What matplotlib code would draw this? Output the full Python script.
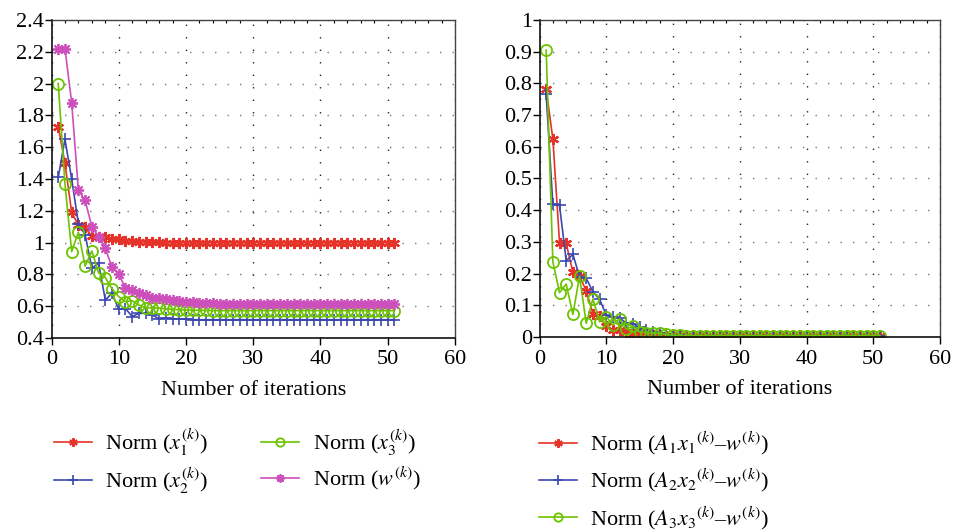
import matplotlib
matplotlib.use("Agg")
import matplotlib.pyplot as plt
import numpy as np
from matplotlib.ticker import MultipleLocator, FuncFormatter

plt.rcParams['font.family'] = ['Liberation Serif', 'DejaVu Serif']
plt.rcParams['mathtext.fontset'] = 'stix'

iterations = list(range(1, 52))

norm_x1 = [1.73, 1.50, 1.19, 1.11, 1.095, 1.04, 1.035, 1.035, 1.02, 1.02,
           1.01, 1.01, 1.005, 1.005, 1.003, 1.002] + [1.00] * 35
norm_x2 = [1.41, 1.65, 1.40, 1.12, 1.05, 0.84, 0.87, 0.64, 0.68, 0.58,
           0.585, 0.535, 0.555, 0.555, 0.545, 0.52, 0.525, 0.52, 0.52, 0.52] + [0.515] * 31
norm_x3 = [2.00, 1.37, 0.943, 1.065, 0.853, 0.947, 0.81, 0.78, 0.71, 0.66,
           0.628, 0.635, 0.607, 0.59, 0.59, 0.588, 0.583, 0.58, 0.578, 0.576,
           0.575, 0.574, 0.573] + [0.572] * 28
norm_w = [2.22, 2.22, 1.88, 1.33, 1.265, 1.10, 1.037, 0.964, 0.845, 0.80,
          0.716, 0.70, 0.68, 0.67, 0.653, 0.65, 0.643, 0.638, 0.632, 0.628,
          0.625, 0.622, 0.62, 0.618, 0.616, 0.615] + [0.613] * 25

res_1 = [0.782, 0.625, 0.298, 0.295, 0.205, 0.192, 0.146, 0.074, 0.066, 0.035,
         0.022, 0.021, 0.015, 0.010, 0.012, 0.009, 0.007, 0.005, 0.004, 0.003] + [0.002] * 31
res_2 = [0.766, 0.418, 0.415, 0.24, 0.261, 0.19, 0.185, 0.143, 0.119, 0.069,
         0.064, 0.06, 0.044, 0.042, 0.03, 0.022, 0.017, 0.012, 0.008, 0.006,
         0.005, 0.004] + [0.003] * 29
res_3 = [0.905, 0.237, 0.14, 0.167, 0.071, 0.192, 0.043, 0.12, 0.048, 0.064,
         0.038, 0.058, 0.025, 0.034, 0.016, 0.014, 0.012, 0.012, 0.008, 0.006,
         0.005] + [0.004] * 30

left_labels = [r"Norm ($x_1^{(k)}$)", r"Norm ($x_2^{(k)}$)",
               r"Norm ($x_3^{(k)}$)", r"Norm ($w^{(k)}$)"]
right_labels = [r"Norm ($A_1x_1{}^{(k)}$–$w^{(k)}$)",
                r"Norm ($A_2x_2{}^{(k)}$–$w^{(k)}$)",
                r"Norm ($A_3x_3{}^{(k)}$–$w^{(k)}$)"]
xlabel = "Number of iterations"

RED = "#e5332a"
BLUE = "#3c48b0"
GREEN = "#6cc300"
MAGENTA = "#cc4fbc"

ast6 = (6, 2, 0)
ast8 = (8, 2, 0)

W, H = 957, 531
fig = plt.figure(figsize=(W / 100, H / 100), dpi=100)

def px_axes(l, r, t, b):
    return fig.add_axes([l / W, 1 - b / H, (r - l) / W, (b - t) / H])

axL = px_axes(51.5, 455, 20, 338)
axR = px_axes(539.5, 940, 20, 337)

FS = 16

def style(ax, ymin, ymax, ystep):
    ax.set_xlim(0, 60)
    ax.set_ylim(ymin, ymax)
    ax.xaxis.set_major_locator(MultipleLocator(10))
    ax.yaxis.set_major_locator(MultipleLocator(ystep))
    ax.xaxis.set_major_formatter(FuncFormatter(lambda v, p: f"{v:g}"))
    ax.yaxis.set_major_formatter(FuncFormatter(lambda v, p: f"{round(v, 2):g}"))
    ax.tick_params(axis='both', which='major', direction='out', length=5, width=1,
                   labelsize=FS, top=False, right=False)
    ax.tick_params(axis='x', which='major', pad=4)
    ax.tick_params(axis='y', which='major', pad=0.5)
    ax.xaxis.set_minor_locator(MultipleLocator(2))
    ax.tick_params(axis='x', which='minor', direction='in', length=2.5, width=0.8,
                   top=True, bottom=False)
    ax.grid(True, which='major', axis='x', color='#222222', linestyle=(0, (1, 8)), linewidth=1)
    ax.grid(True, which='major', axis='y', color='#777777', linestyle=(0, (1, 8)), linewidth=1)
    for s in ['left', 'bottom']:
        ax.spines[s].set_linewidth(1.2)
        ax.spines[s].set_color('#111111')
    for s in ['top', 'right']:
        ax.spines[s].set_linewidth(1.0)
        ax.spines[s].set_color('#444444')
    ax.set_xlabel(xlabel, fontsize=FS, labelpad=8)
    ax.set_axisbelow(True)

style(axL, 0.4, 2.4, 0.2)
style(axR, 0.0, 1.0, 0.1)

lw = 1.2
axL.plot(iterations, norm_x1, color=RED, lw=lw, marker=ast6, ms=8, mew=1.6, label=left_labels[0])
axL.plot(iterations, norm_x2, color=BLUE, lw=lw, marker='+', ms=9, mew=1.2, label=left_labels[1])
axL.plot(iterations, norm_x3, color=GREEN, lw=lw, marker='o', ms=8, mew=1.3, mfc='none', label=left_labels[2])
axL.plot(iterations, norm_w, color=MAGENTA, lw=lw, marker=ast8, ms=8, mew=1.3, label=left_labels[3])

axR.plot(iterations, res_1, color=RED, lw=lw, marker=ast6, ms=8, mew=1.6, label=right_labels[0])
axR.plot(iterations, res_2, color=BLUE, lw=lw, marker='+', ms=9, mew=1.2, label=right_labels[1])
axR.plot(iterations, res_3, color=GREEN, lw=lw, marker='o', ms=8, mew=1.3, mfc='none', label=right_labels[2])

hL, lL = axL.get_legend_handles_labels()
legL = fig.legend(hL, lL, ncol=2, loc='upper left', bbox_to_anchor=(54 / W, 1 - 427 / H),
                  frameon=False, fontsize=FS, handlelength=1.7, handletextpad=0.6,
                  columnspacing=2.4, labelspacing=0.3, markerscale=0.75,
                  borderpad=0, borderaxespad=0)
hR, lR = axR.get_legend_handles_labels()
legR = fig.legend(hR, lR, ncol=1, loc='upper left', bbox_to_anchor=(539 / W, 1 - 430 / H),
                  frameon=False, fontsize=FS, handlelength=1.7, handletextpad=0.6,
                  labelspacing=0.45, markerscale=0.75,
                  borderpad=0, borderaxespad=0)

fig.savefig("out.png", dpi=100)
